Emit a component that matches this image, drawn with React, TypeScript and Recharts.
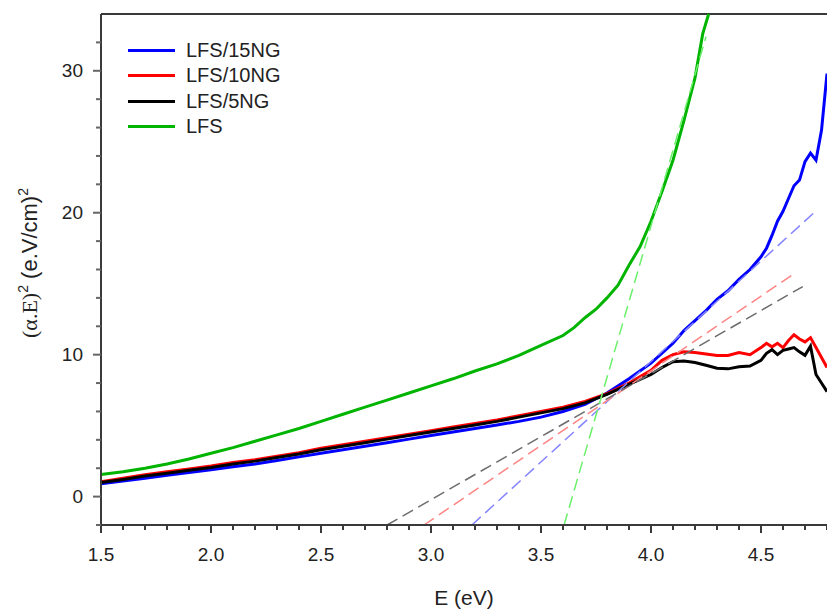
import React from "react";
import { LineChart, Line, XAxis, YAxis, Legend, ReferenceLine } from "recharts";

// photon energy grid (eV) shared by the three composite samples
const energy = [
  1.5, 1.6, 1.7, 1.8, 1.9, 2.0, 2.1, 2.2, 2.3, 2.4, 2.5, 2.6, 2.7, 2.8, 2.9, 3.0,
  3.1, 3.2, 3.3, 3.4, 3.5, 3.6, 3.7, 3.8, 3.9, 4.0, 4.05, 4.1, 4.15, 4.2, 4.25,
  4.3, 4.35, 4.4, 4.45, 4.5, 4.525, 4.55, 4.575, 4.6, 4.625, 4.65, 4.675, 4.7,
  4.725, 4.75, 4.775, 4.8,
];

const lfs15ng = [
  0.9, 1.1, 1.3, 1.5, 1.7, 1.9, 2.1, 2.3, 2.55, 2.8, 3.05, 3.3, 3.55, 3.8, 4.05, 4.3,
  4.55, 4.8, 5.05, 5.3, 5.6, 6.0, 6.5, 7.3, 8.3, 9.4, 10.1, 10.8, 11.7, 12.4, 13.1,
  13.9, 14.5, 15.3, 16.0, 16.9, 17.5, 18.4, 19.4, 20.1, 21.0, 21.9, 22.3, 23.6,
  24.2, 23.7, 25.8, 29.8,
];

const lfs10ng = [
  1.05, 1.3, 1.55, 1.75, 1.95, 2.15, 2.4, 2.6, 2.85, 3.1, 3.4, 3.65, 3.9, 4.15, 4.4, 4.65,
  4.9, 5.15, 5.4, 5.7, 6.0, 6.3, 6.7, 7.25, 8.0, 8.9, 9.6, 10.0, 10.2, 10.15, 10.05,
  9.95, 9.95, 10.15, 10.0, 10.5, 10.8, 10.55, 10.8, 10.5, 11.0, 11.4, 11.1, 10.9,
  11.2, 10.5, 9.8, 9.1,
];

const lfs5ng = [
  1.0, 1.2, 1.45, 1.65, 1.85, 2.05, 2.3, 2.5, 2.75, 3.0, 3.3, 3.55, 3.8, 4.05, 4.3, 4.55,
  4.8, 5.05, 5.3, 5.6, 5.9, 6.2, 6.6, 7.2, 7.9, 8.6, 9.1, 9.5, 9.55, 9.45, 9.25,
  9.05, 9.0, 9.15, 9.2, 9.6, 10.1, 10.35, 10.0, 10.3, 10.4, 10.5, 10.2, 9.95,
  10.6, 8.6, 8.0, 7.4,
];

// bare LFS film (runs off the top of the frame at ~4.26 eV)
const lfsEnergy = [
  1.5, 1.6, 1.7, 1.8, 1.9, 2.0, 2.1, 2.2, 2.3, 2.4, 2.5, 2.6, 2.7, 2.8, 2.9, 3.0,
  3.1, 3.2, 3.3, 3.4, 3.5, 3.6, 3.65, 3.7, 3.75, 3.8, 3.85, 3.9, 3.95, 4.0, 4.05,
  4.1, 4.15, 4.2, 4.235, 4.262,
];
const lfs = [
  1.55, 1.75, 2.0, 2.3, 2.65, 3.05, 3.45, 3.9, 4.35, 4.8, 5.3, 5.8, 6.3, 6.8, 7.3, 7.8,
  8.3, 8.85, 9.35, 9.95, 10.65, 11.35, 11.9, 12.6, 13.2, 14.0, 14.9, 16.3, 17.6, 19.4,
  21.5, 23.7, 26.5, 29.5, 32.6, 34,
];

// linear Tauc fits: [start, end] energies and values
const fit15E = [3.186, 4.755];
const fit15V = [-2, 20.2];
const fit10E = [2.968, 4.64];
const fit10V = [-2, 15.6];
const fit5E = [2.8, 4.69];
const fit5V = [-2, 14.8];
const fitLfsE = [3.605, 4.25];
const fitLfsV = [-2, 32.4];

const xTicks = [
  1.5, 1.6, 1.7, 1.8, 1.9, 2.0, 2.1, 2.2, 2.3, 2.4, 2.5, 2.6, 2.7, 2.8, 2.9, 3.0,
  3.1, 3.2, 3.3, 3.4, 3.5, 3.6, 3.7, 3.8, 3.9, 4.0, 4.1, 4.2, 4.3, 4.4, 4.5, 4.6,
  4.7, 4.8,
];
const yTicks = [-2, 0, 2, 4, 6, 8, 10, 12, 14, 16, 18, 20, 22, 24, 26, 28, 30, 32];

const legendItems = [
  { name: "LFS/15NG", color: "#0000ff" },
  { name: "LFS/10NG", color: "#ff0000" },
  { name: "LFS/5NG", color: "#000000" },
  { name: "LFS", color: "#00b400" },
];

const pts = (xs: number[], ys: number[]) => xs.map((e, i) => ({ e, v: ys[i] }));

const AXIS = "#3a3a3a";
const FONT = "Arial, 'Liberation Sans', sans-serif";
const TICK = 8; // tickSize given to the axes; tick marks drawn in the tick components

const XTick = (props: any) => {
  const { x, y, payload } = props;
  const val = payload.value as number;
  const major = Math.abs(val * 2 - Math.round(val * 2)) < 1e-6;
  const base = y - TICK;
  return (
    <g>
      <rect x={x - 1} y={base} width={2} height={major ? 8 : 5} fill="#3c3a38" />
      {major && (
        <text x={x} y={base + 36} textAnchor="middle" fontSize={19} fontFamily={FONT} fill="#222">
          {val.toFixed(1)}
        </text>
      )}
    </g>
  );
};

const YTick = (props: any) => {
  const { x, y, payload } = props;
  const val = payload.value as number;
  const major = val % 10 === 0;
  const base = x + TICK;
  const len = major ? 8 : 5;
  return (
    <g>
      <rect x={base - len} y={y - 1} width={len} height={2} fill="#666666" />
      {major && (
        <text x={base - 18} y={y} textAnchor="end" dominantBaseline="central" fontSize={19} fontFamily={FONT} fill="#222">
          {val}
        </text>
      )}
    </g>
  );
};

const renderLegend = () => (
  <div style={{ fontFamily: FONT, fontSize: 20, color: "#222" }}>
    {legendItems.map((it) => (
      <div key={it.name} style={{ display: "flex", alignItems: "center", height: 25.3 }}>
        <span style={{ display: "inline-block", width: 47, height: 3, background: it.color, marginRight: 11 }} />
        <span>{it.name}</span>
      </div>
    ))}
  </div>
);

const YLabel = () => (
  <text transform="translate(37,263) rotate(-90)" textAnchor="middle" fontSize={22} fill="#222" fontFamily={FONT}>
    <tspan fontFamily="'Liberation Serif', 'Times New Roman', serif">(α.E)</tspan>
    <tspan fontSize={14} dy={-9}>2</tspan>
    <tspan dy={9}> (e.V/cm)</tspan>
    <tspan fontSize={14} dy={-9}>2</tspan>
  </text>
);

const XLabel = () => (
  <text x={464} y={605} textAnchor="middle" fontSize={21} fill="#222" fontFamily={FONT}>
    E (eV)
  </text>
);

export default function App() {
  const solid = (data: any[], color: string, name: string) => (
    <Line
      key={name}
      data={data}
      dataKey="v"
      name={name}
      type="linear"
      stroke={color}
      strokeWidth={3}
      dot={false}
      isAnimationActive={false}
      legendType="none"
    />
  );
  const dashed = (data: any[], color: string, name: string) => (
    <Line
      key={name}
      data={data}
      dataKey="v"
      name={name}
      type="linear"
      stroke={color}
      strokeWidth={1.5}
      strokeDasharray="12 6"
      dot={false}
      isAnimationActive={false}
      legendType="none"
    />
  );

  return (
    <div style={{ position: "absolute", left: 0, top: 0, background: "#fff" }}>
      <LineChart width={827} height={612} margin={{ top: 14, right: 0, bottom: 0, left: 0 }}>
        <XAxis
          type="number"
          dataKey="e"
          domain={[1.5, 4.8]}
          ticks={xTicks}
          interval={0}
          tickSize={TICK}
          tickMargin={0}
          tickLine={false}
          tick={<XTick />}
          height={87}
          axisLine={{ stroke: AXIS, strokeWidth: 2 }}
          label={<XLabel />}
        />
        <YAxis
          type="number"
          domain={[-2, 34]}
          ticks={yTicks}
          interval={0}
          tickSize={TICK}
          tickMargin={0}
          tickLine={false}
          tick={<YTick />}
          width={101}
          axisLine={{ stroke: AXIS, strokeWidth: 2 }}
          label={<YLabel />}
        />
        <ReferenceLine y={34} stroke={AXIS} strokeWidth={2} />
        {solid(pts(energy, lfs15ng), "#0000ff", "LFS/15NG")}
        {solid(pts(energy, lfs10ng), "#ff0000", "LFS/10NG")}
        {solid(pts(energy, lfs5ng), "#000000", "LFS/5NG")}
        {solid(pts(lfsEnergy, lfs), "#00b400", "LFS")}
        {dashed(pts(fit15E, fit15V), "#8484ff", "fit15")}
        {dashed(pts(fit10E, fit10V), "#ff8484", "fit10")}
        {dashed(pts(fit5E, fit5V), "#6c6c6c", "fit5")}
        {dashed(pts(fitLfsE, fitLfsV), "#6cf06c", "fitLfs")}
        <Legend
          layout="vertical"
          align="center"
          verticalAlign="middle"
          content={renderLegend}
          wrapperStyle={{ position: "absolute", left: 128, top: 38, width: "auto" }}
        />
      </LineChart>
    </div>
  );
}
